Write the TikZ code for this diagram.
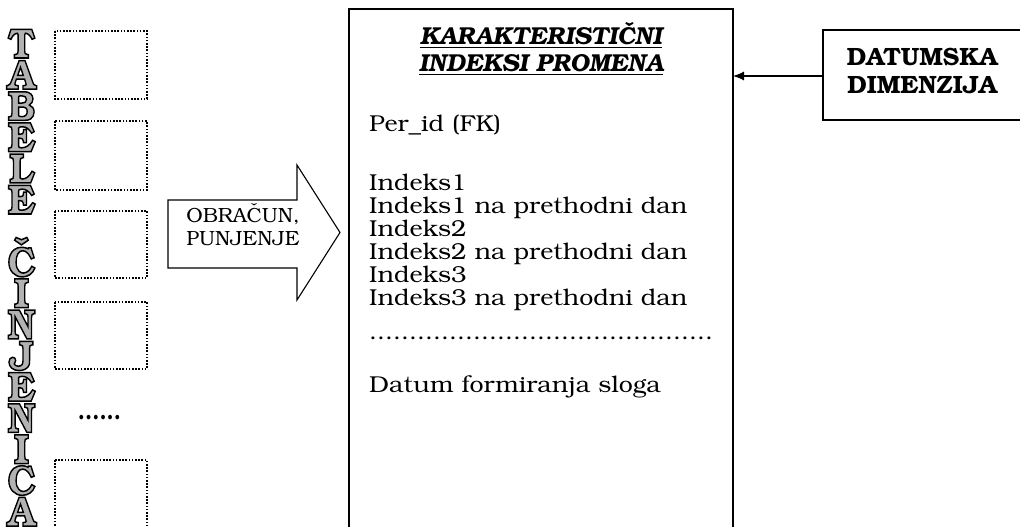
\documentclass[tikz,border=0pt]{standalone}
\usepackage[T1]{fontenc}
\usepackage{bookman}
\usetikzlibrary{arrows.meta}

\tikzset{
  dotbox/.style={draw, line width=1.6pt, dash pattern=on 1.6pt off 1.6pt},
  solidbox/.style={draw, line width=1.2pt},
  colletter/.style={inner sep=0pt, anchor=base, text=black!30, font=\fontsize{42}{42}\bfseries\selectfont},
  bodytext/.style={inner sep=0pt, anchor=base west, font=\fontsize{23}{23}\selectfont},
  title/.style={inner sep=0pt, anchor=base, font=\fontsize{24.5}{24.5}\bfseries\itshape\selectfont},
  dimtext/.style={inner sep=0pt, anchor=base, font=\fontsize{25}{25}\bfseries\selectfont},
  arrowtext/.style={inner sep=0pt, anchor=base, font=\fontsize{20.5}{20.5}\selectfont},
}
% outlined letters: gray fill, black stroke (PDF text render mode 2)
\newcommand{\hollow}[1]{\special{pdf:literal direct 0 G 2 Tr 1.5 w}\scalebox{0.9}[1]{#1}\special{pdf:literal direct 0 Tr}}
% slightly widened body lines
\newcommand{\wide}[1]{\scalebox{1.087}[1]{#1}}

\begin{document}
\begin{tikzpicture}[x=1pt,y=-1pt]
  \useasboundingbox (0,0) rectangle (1020,527);

  % vertical caption of the fact tables
  \foreach \ch [count=\i from 0] in {T,A,B,E,L,E,{},\v{C},I,N,J,E,N,I,C,A}
    \node[colletter] (l\i) at (21.5,{58+31.2*\i}) {\hollow{\ch}};

  % fact tables
  \draw[dotbox] (55,31) rectangle (147,99);
  \draw[dotbox] (55,121) rectangle (147,190);
  \draw[dotbox] (55,211) rectangle (147,278);
  \draw[dotbox] (55,302) rectangle (147,369);
  \node[inner sep=0pt, font=\fontsize{25}{25}\bfseries\selectfont] (more) at (99.5,418) {\scalebox{0.85}[1]{......}};
  \draw[dotbox] (55,460) rectangle (147,540);

  % loading arrow
  \draw[line width=1.1pt, line join=miter]
    (168,200) -- (297,200) -- (297,165) -- (340,232.5) -- (297,300) -- (297,268) -- (168,268) -- cycle;
  \node[arrowtext] (calc1) at (243,222) {OBRA\v{C}UN,};
  \node[arrowtext] (calc2) at (243,245) {PUNJENJE};

  % fact table of characteristic indexes
  \draw[solidbox] (349,9) coordinate (mainnw) rectangle (733,560) coordinate (mainse);
  \node[title] (t1) at (541,45) {\underline{KARAKTERISTI\v{C}NI}};
  \node[title] (t2) at (541,72) {\underline{INDEKSI PROMENA}};
  \node[bodytext] (fk) at (369,131) {\wide{Per\_id (FK)}};
  \node[bodytext] (i1) at (369,190) {\wide{Indeks1}};
  \node[bodytext] (i1p) at (369,213) {\wide{Indeks1 na prethodni dan}};
  \node[bodytext] (i2) at (369,236) {\wide{Indeks2}};
  \node[bodytext] (i2p) at (369,259) {\wide{Indeks2 na prethodni dan}};
  \node[bodytext] (i3) at (369,282) {\wide{Indeks3}};
  \node[bodytext] (i3p) at (369,305) {\wide{Indeks3 na prethodni dan}};
  \node[bodytext] (dots) at (369,339) {\wide{...........................................}};
  \node[bodytext] (dat) at (369,392) {\wide{Datum formiranja sloga}};

  % date dimension
  \draw[solidbox] (823,30) rectangle (1040,120);
  \node[dimtext] (d1) at (922,66) {DATUMSKA};
  \node[dimtext] (d2) at (922,93) {DIMENZIJA};
  \coordinate (dimw) at (823,76);
  \coordinate (maine) at (733,76);
  \draw[line width=1.1pt, -{Latex[length=11pt,width=9pt]}] (dimw) -- (maine);
\end{tikzpicture}
\end{document}
